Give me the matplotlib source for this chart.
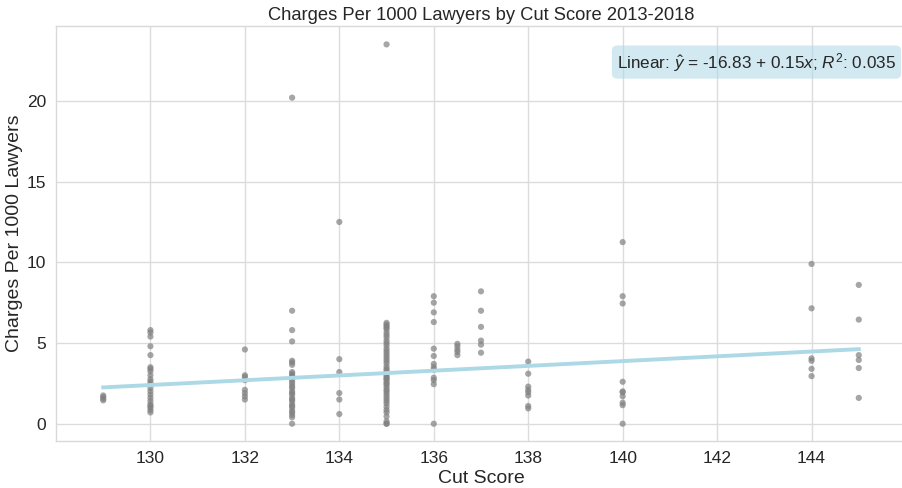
import matplotlib
matplotlib.use("Agg")
import matplotlib.pyplot as plt
import numpy as np

# ---- data ----
x129 = [129] * 4
y129 = [1.45, 1.55, 1.65, 1.75]

x130 = [130] * 22
y130 = [5.8, 5.65, 5.4, 4.8, 4.25, 3.5, 3.4, 3.25, 3.0, 2.75, 2.45, 2.2,
        2.0, 1.8, 1.6, 1.4, 1.2, 1.0, 0.85, 0.7, 2.6, 1.1]

x132 = [132] * 8
y132 = [4.6, 3.0, 2.9, 2.7, 2.1, 1.9, 1.7, 1.5]

x133 = [133] * 30
y133 = [20.2, 7.0, 5.8, 5.1, 3.9, 3.8, 3.65, 3.2, 3.1, 2.9, 2.75, 2.45,
        2.2, 2.0, 1.8, 1.6, 1.4, 1.2, 1.0, 0.8, 0.55, 0.4, 0.0, 2.6,
        2.3, 1.9, 1.5, 1.1, 0.7, 3.0]

x134 = [134] * 6
y134 = [12.5, 4.0, 3.2, 1.9, 1.5, 0.6]

x135 = [135] * 45
y135 = [23.5, 6.25, 6.15, 6.05, 5.95, 5.85, 5.65, 5.5, 5.35, 5.15, 5.0,
        4.85, 4.65, 4.5, 4.35, 4.2, 4.05, 3.9, 3.75, 3.55, 3.4, 3.3, 3.15,
        3.0, 2.9, 2.75, 2.6, 2.5, 2.4, 2.25, 2.1, 2.0, 1.85, 1.7, 1.55,
        1.4, 1.25, 1.05, 0.85, 0.7, 0.45, 0.15, 0.0, 0.0, 2.8]

x136 = [136] * 13
y136 = [7.9, 7.5, 6.9, 6.3, 4.65, 4.2, 3.7, 3.5, 3.35, 2.85, 2.7, 2.45, 0.0]

x1365 = [136.5] * 5
y1365 = [4.95, 4.8, 4.6, 4.45, 4.25]

x137 = [137] * 6
y137 = [8.2, 7.0, 6.0, 5.15, 4.9, 4.4]

x138 = [138] * 8
y138 = [3.85, 3.1, 2.3, 2.1, 1.95, 1.75, 1.1, 0.95]

x140 = [140] * 10
y140 = [11.25, 7.9, 7.45, 2.6, 2.0, 1.95, 1.7, 1.3, 1.15, 0.0]

x144 = [144] * 6
y144 = [9.9, 7.15, 4.05, 3.9, 3.4, 2.95]

x145 = [145] * 6
y145 = [8.6, 6.45, 4.25, 3.95, 3.45, 1.6]

# fitted regression line, as drawn in the reference (end points)
fit_x = [129, 145]
fit_y = [2.25, 4.62]

title = "Charges Per 1000 Lawyers by Cut Score 2013-2018"
xlabel = "Cut Score"
ylabel = "Charges Per 1000 Lawyers"
fit_label = r"Linear: $\hat{y}$ = -16.83 + 0.15$x$; $R^2$: 0.035"
xticks = [130, 132, 134, 136, 138, 140, 142, 144]
yticks = [0, 5, 10, 15, 20]

cut_scores = np.array(x129 + x130 + x132 + x133 + x134 + x135 + x136 + x1365 +
                      x137 + x138 + x140 + x144 + x145, dtype=float)
charges = np.array(y129 + y130 + y132 + y133 + y134 + y135 + y136 + y1365 +
                   y137 + y138 + y140 + y144 + y145, dtype=float)

# ---- figure ----
plt.rcParams['font.family'] = ['Liberation Sans', 'DejaVu Sans']
plt.rcParams['mathtext.fontset'] = 'custom'
plt.rcParams['mathtext.rm'] = 'Liberation Sans'
plt.rcParams['mathtext.it'] = 'Liberation Sans:italic'
W, H = 902, 488
fig = plt.figure(figsize=(W / 100, H / 100), dpi=100)
left, right, top, bottom = 56, 906, 26, 441
ax = fig.add_axes([left / W, 1 - bottom / H, (right - left) / W, (bottom - top) / H])

ax.set_facecolor("white")
ax.grid(True, color="#dcdcdc", linewidth=1.0)
ax.set_axisbelow(True)
for s in ["left", "bottom", "top"]:
    ax.spines[s].set_color("#d9d9d9")
    ax.spines[s].set_linewidth(1.0)
ax.spines["right"].set_visible(False)

ax.scatter(cut_scores, charges, s=20, color="#808080", alpha=0.7,
           edgecolors="none", zorder=3)
ax.plot(fit_x, fit_y, color="#add8e6", linewidth=2.8, zorder=4)

ax.set_xlim(128, 146)
ax.set_ylim(-1.07, 24.64)
ax.set_xticks(xticks)
ax.set_yticks(yticks)
ax.tick_params(axis="both", labelsize=12.5, colors="#262626", length=0, pad=7)

ax.set_title(title, fontsize=13.2, color="#262626", pad=4)
ax.set_xlabel(xlabel, fontsize=14, color="#262626", labelpad=3)
ax.set_ylabel(ylabel, fontsize=14, color="#262626", labelpad=3)

ax.text(0.66, 0.913, fit_label, transform=ax.transAxes, fontsize=12.3,
        color="#262626", va="center", ha="left",
        bbox=dict(boxstyle="round,pad=0.3", facecolor="#add8e6", alpha=0.55,
                  edgecolor="none"), zorder=5)

fig.savefig("out.png", dpi=100)
